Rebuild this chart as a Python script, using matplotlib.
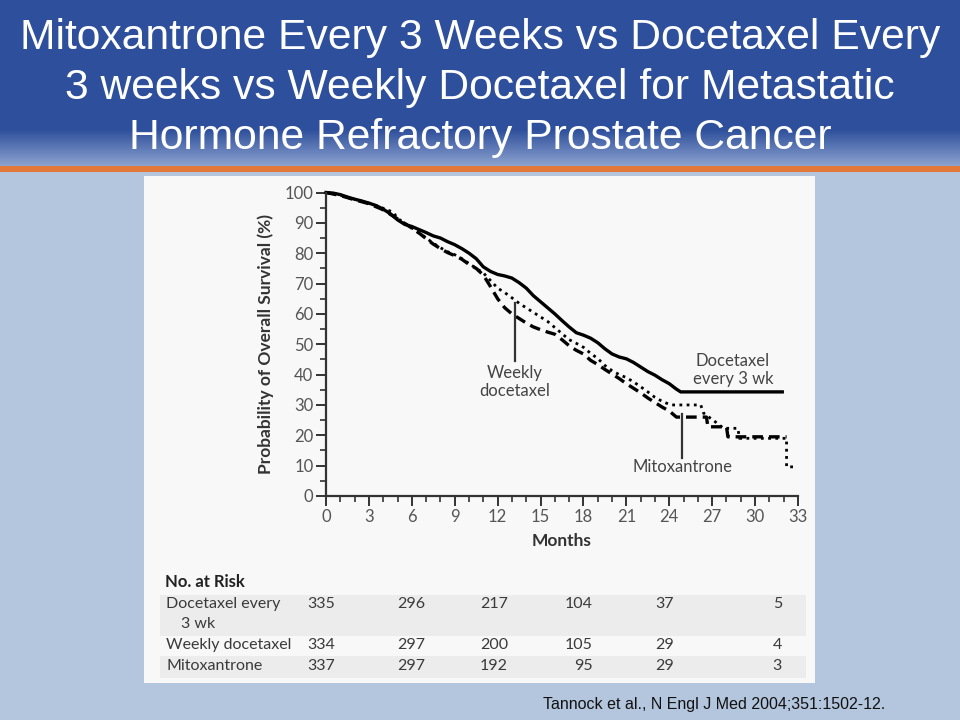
import numpy as np
import matplotlib
matplotlib.use("Agg")
import matplotlib.pyplot as plt
from matplotlib.patches import Rectangle

# ---------------- data ----------------
title_lines = ["Mitoxantrone Every 3 Weeks vs Docetaxel Every",
               "3 weeks vs Weekly Docetaxel for Metastatic",
               "Hormone Refractory Prostate Cancer"]

doce3_t = [0, 0.5, 1, 1.5, 2, 2.5, 3, 3.5, 4, 4.5, 5, 5.5, 6, 6.5, 7, 7.5, 8, 8.5, 9, 9.5,
           10, 10.5, 11, 11.5, 12, 12.5, 13, 13.5, 14, 14.5, 15, 15.5, 16, 16.5, 17, 17.5,
           18, 18.5, 19, 19.5, 20, 20.5, 21, 21.5, 22, 22.5, 23, 23.5, 24, 24.5, 24.8, 31.9]
doce3_s = [100, 99.8, 99.3, 98.5, 97.8, 97.2, 96.5, 95.7, 94.5, 93, 91, 89.5, 88.8, 87.8, 86.8,
           85.7, 85, 83.8, 82.8, 81.5, 80, 78.2, 75.5, 74, 73, 72.5, 71.8, 70.3, 68.5, 66, 64,
           62, 60, 57.8, 55.7, 53.8, 53, 52, 50.5, 48.5, 46.8, 45.8, 45.2, 44, 42.5, 41, 39.8,
           38.3, 37, 35.2, 34.3, 34.3]

weekly_t = [0, 1, 2, 3, 4, 4.7, 5, 6, 6.6, 7, 7.5, 8, 8.5, 9, 9.5, 10, 10.5, 11, 11.5, 12,
            12.5, 13, 13.5, 14, 14.5, 15, 15.5, 16, 16.5, 17, 17.5, 18, 18.5, 19, 19.5, 20,
            20.5, 21, 21.5, 22, 22.5, 23, 23.5, 24, 24.2, 26.2, 26.4, 27.2, 27.8, 28.8, 28.9,
            32.2, 32.2, 32.9]
weekly_s = [100, 99.2, 97.8, 96.5, 94.8, 93.5, 91.5, 88.3, 86.5, 85, 83.3, 81.8, 80.5, 79.5,
            78.2, 76.6, 75, 73.5, 71, 68.5, 67, 65.3, 63.5, 62, 60.5, 59, 57.5, 55.5, 53.5,
            51.5, 50.3, 49, 47, 45.3, 43, 41.3, 40, 39, 37.6, 36, 34.3, 32.5, 31.2, 30.2, 30,
            30, 27.3, 24.5, 22.3, 22.3, 19, 19, 9.6, 9.6]

mito_t = [0, 1, 2, 3, 4, 5, 6, 6.6, 7, 7.5, 8, 8.5, 9, 9.5, 10, 10.5, 11, 11.5, 12, 12.5,
          13, 13.5, 14, 14.5, 15, 15.5, 16, 16.5, 17, 17.5, 18, 18.5, 19, 19.5, 20, 20.5,
          21, 21.5, 22, 22.5, 23, 23.5, 24, 24.5, 26.6, 26.7, 28, 28.1, 32.2]
mito_s = [100, 99, 97.6, 96.3, 94.3, 91.3, 88.3, 86.3, 84.8, 83, 81.5, 80.2, 79.2, 78, 76.3,
          75, 72.8, 69, 65, 62, 60, 58.5, 57, 55.7, 54.8, 54, 53.3, 51.5, 49.5, 48, 46.8,
          44.7, 43.3, 41.7, 40.2, 38.7, 37, 35.5, 34, 32.3, 30.8, 29.3, 28, 26, 26, 22.8,
          22.8, 19.5, 19.5]

risk_rows = [["Docetaxel every", "3 wk"], ["Weekly docetaxel"], ["Mitoxantrone"]]
risk_values = [[335, 296, 217, 104, 37, 5],
               [334, 297, 200, 105, 29, 4],
               [337, 297, 192, 95, 29, 3]]
citation = "Tannock et al., N Engl J Med 2004;351:1502-12."

# ---------------- figure ----------------
W, H = 960, 720
fig = plt.figure(figsize=(W / 100, H / 100), dpi=100)
fig.patch.set_facecolor("#b3c6de")

bg = fig.add_axes([0, 0, 1, 1])
bg.axis("off")

# header with gradient
top = np.array([0x2e, 0x4f, 0x9b]) / 255
bot = np.array([0x8c, 0xa2, 0xcf]) / 255
rows = np.linspace(0, 1, 166)
frac = np.clip((rows * 166 - 130) / (166 - 130), 0, 1)[:, None]
grad = top[None, :] * (1 - frac) + bot[None, :] * frac
bg.imshow(grad[:, None, :], extent=(0, W, 166, 0), aspect="auto", zorder=0)
bg.add_patch(Rectangle((0, 166), W, 6, color="#e2783a", zorder=1, lw=0))
bg.set_xlim(0, W)
bg.set_ylim(H, 0)

for i, line in enumerate(title_lines):
    bg.text(480, 38 + 50 * i, line, color="white", fontsize=30.7, ha="center", va="center",
            family=["Liberation Sans", "DejaVu Sans"], zorder=2)

# white panel
bg.add_patch(Rectangle((144, 176), 815 - 144, 683 - 176, color="#f8f8f8", lw=0, zorder=1))
# table bands
bg.add_patch(Rectangle((160, 595), 806 - 160, 41, color="#ececec", lw=0, zorder=1.5))
bg.add_patch(Rectangle((160, 656), 806 - 160, 22, color="#ececec", lw=0, zorder=1.5))

tfont = ["Lato", "DejaVu Sans"]
tcol = "#3a3a3a"
bg.text(165, 582, "No. at Risk", fontsize=12, fontweight="bold", family=tfont, color="#222",
        va="center", ha="left", zorder=3)
row_y = [604, 645, 666]
col_x = [335, 425, 508, 593, 674, 782]
for r, (labels, vals) in enumerate(zip(risk_rows, risk_values)):
    bg.text(166, row_y[r], labels[0], fontsize=11.5, family=tfont, color=tcol,
            va="center", ha="left", zorder=3)
    if len(labels) > 1:
        bg.text(181, row_y[r] + 20, labels[1], fontsize=11.5, family=tfont, color=tcol,
                va="center", ha="left", zorder=3)
    for x, v in zip(col_x, vals):
        bg.text(x, row_y[r], str(v), fontsize=11.5, family=tfont, color=tcol,
                va="center", ha="right", zorder=3)

bg.text(543, 705, citation, fontsize=11.5, family=["Liberation Sans", "DejaVu Sans"],
        color="#111", va="center", ha="left", zorder=3)

# ---------------- main plot ----------------
ax = fig.add_axes([326 / W, 1 - 496 / H, 472 / W, (496 - 192.5) / H])
ax.set_facecolor("none")
ax.set_xlim(0, 33)
ax.set_ylim(0, 100)

ax.plot(doce3_t, doce3_s, color="black", lw=2.4, clip_on=False, solid_joinstyle="miter")
ax.plot(weekly_t, weekly_s, color="black", lw=2.0, linestyle=(0, (1, 1.6)), clip_on=False)
ax.plot(mito_t, mito_s, color="black", lw=2.4, linestyle=(0, (3.2, 1.8)), clip_on=False)

for s in ["top", "right"]:
    ax.spines[s].set_visible(False)
for s in ["left", "bottom"]:
    ax.spines[s].set_linewidth(1.6)
    ax.spines[s].set_color("#333333")

ax.set_xticks(np.arange(0, 34, 3))
ax.set_xticks(np.arange(0, 34, 1), minor=True)
ax.set_yticks(np.arange(0, 101, 10))
ax.set_yticks(np.arange(0, 101, 5), minor=True)
ax.tick_params(which="major", length=7, width=1.4, color="#333333", labelsize=12,
               labelcolor="#555555", direction="out", pad=2)
ax.tick_params(which="minor", length=4, width=1.2, color="#333333", direction="out")
for lab in ax.get_xticklabels() + ax.get_yticklabels():
    lab.set_family(tfont)

ax.set_ylabel("Probability of Overall Survival (%)", fontsize=12.5, fontweight="bold",
              family=tfont, color="#333333", labelpad=8)
ax.set_xlabel("Months", fontsize=12.5, fontweight="bold", family=tfont, color="#333333",
              labelpad=6)

# annotations
acol = "#444444"
ax.plot([13.2, 13.2], [63.5, 44.6], color="#333333", lw=1.6)
ax.text(13.2, 37.6, "Weekly\ndocetaxel", ha="center", va="center", fontsize=12,
        family=tfont, color=acol, linespacing=1.15)
ax.plot([24.9, 24.9], [27.0, 12.6], color="#333333", lw=1.6)
ax.text(24.9, 9.4, "Mitoxantrone", ha="center", va="center", fontsize=12,
        family=tfont, color=acol)
ax.text(28.45, 41.4, "Docetaxel\nevery 3 wk", ha="center", va="center", fontsize=12,
        family=tfont, color=acol, linespacing=1.15)

fig.savefig("out.png", dpi=100, facecolor=fig.get_facecolor())
